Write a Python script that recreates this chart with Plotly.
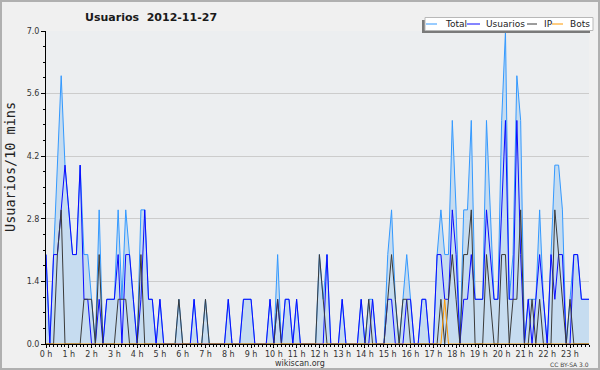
import plotly.graph_objects as go

# 10-minute slots over the day (index 0..143)
slots = list(range(144))
hour_ticks = list(range(0, 144, 6))
hour_labels = [f"{h} h" for h in range(24)]

total = [2,0,2,4,6,4,3,2,2,4,
         2,2,1,0,3,0,1,1,1,3,
         1,3,2,1,0,3,3,1,1,0,
         1,0,0,0,0,1,0,0,0,1,
         0,0,1,0,0,0,0,0,1,0,
         0,0,1,1,1,0,0,0,0,1,
         0,2,0,1,1,0,1,0,0,0,
         0,0,2,1,2,0,0,0,1,0,
         0,0,0,1,0,1,1,0,0,0,
         2,3,1,0,1,2,1,0,0,1,
         1,0,0,2,3,2,2,5,3,0,
         3,3,5,1,1,1,5,3,1,1,
         5,7,1,2,6,5,0,1,1,1,
         3,1,0,2,4,4,3,0,1,2,
         2,1,1,1]

usuarios = [2,0,2,2,3,4,3,2,2,4,
            1,1,0,0,1,0,1,1,1,2,
            0,2,2,1,0,1,3,1,1,0,
            1,0,0,0,0,0,0,0,0,1,
            0,0,0,0,0,0,0,0,1,0,
            0,0,1,1,1,0,0,0,0,1,
            0,1,0,1,1,0,1,0,0,0,
            0,0,0,0,2,0,0,0,1,0,
            0,0,0,1,0,0,1,0,0,0,
            1,1,0,0,0,1,1,0,0,1,
            1,0,0,2,2,1,1,3,2,0,
            1,1,2,1,1,1,3,2,1,1,
            3,5,1,1,5,2,0,1,0,1,
            2,1,0,2,1,2,2,0,0,2,
            2,1,1,1]

ip = [0,0,0,2,3,0,0,0,0,0,
      1,1,1,0,2,0,0,0,0,1,
      1,1,0,0,0,2,0,0,0,0,
      0,0,0,0,0,1,0,0,0,0,
      0,0,1,0,0,0,0,0,0,0,
      0,0,0,0,0,0,0,0,0,0,
      0,1,0,0,0,0,0,0,0,0,
      0,0,2,1,0,0,0,0,0,0,
      0,0,0,0,0,1,0,0,0,0,
      1,2,1,0,1,1,0,0,0,0,
      0,0,0,0,1,0,1,2,1,0,
      2,2,3,0,0,0,2,1,0,0,
      2,2,0,1,1,3,0,0,1,0,
      1,0,0,0,3,2,1,0,1,0,
      0,0,0,0]

bots = [0]*105 + [1] + [0]*38

C_TOTAL = "#3399ff"
C_FILL = "#c6dcf0"
C_USU = "#0a0aff"
C_IP = "#3a3a3a"
C_BOTS = "#ff9900"

fig = go.Figure()
fig.add_trace(go.Scatter(x=slots, y=total, name="Total", mode="lines",
                         line=dict(color=C_TOTAL, width=1), fill="tozeroy",
                         fillcolor=C_FILL))
fig.add_trace(go.Scatter(x=slots, y=usuarios, name="Usuarios", mode="lines",
                         line=dict(color=C_USU, width=1)))
fig.add_trace(go.Scatter(x=slots, y=ip, name="IP", mode="lines",
                         line=dict(color=C_IP, width=1)))
fig.add_trace(go.Scatter(x=slots, y=bots, name="Bots", mode="lines",
                         line=dict(color=C_BOTS, width=1)))

L, R, T, B = 46, 11, 31, 26
W, H = 600, 370
PW, PH = W - L - R, H - T - B

def px(x):
    return (x - L) / PW

def py(y):
    return (H - B - y) / PH

shapes = [
    # outer border
    dict(type="rect", xref="paper", yref="paper", x0=px(1), x1=px(599), y0=py(369), y1=py(1),
         line=dict(color="#b0b0b0", width=2), fillcolor="rgba(0,0,0,0)", layer="above"),
    # legend shadow
    dict(type="rect", xref="paper", yref="paper", x0=px(422), x1=px(590), y0=py(33), y1=py(20),
         line=dict(width=0), fillcolor="#7a7a7a", layer="above"),
    # legend box
    dict(type="rect", xref="paper", yref="paper", x0=px(425), x1=px(593), y0=py(30.5), y1=py(17.5),
         line=dict(color="#b8b8b8", width=1), fillcolor="#ffffff", layer="above"),
]
legend_items = [("Total", C_TOTAL, 426, 437, 443),
                ("Usuarios", C_USU, 467, 480, 484),
                ("IP", C_IP, 527, 537, 542),
                ("Bots", C_BOTS, 552, 563, 568)]
annotations = []
for name, col, lx0, lx1, tx in legend_items:
    shapes.append(dict(type="line", xref="paper", yref="paper", x0=px(lx0), x1=px(lx1),
                       y0=py(24), y1=py(24), line=dict(color=col, width=1), layer="above"))
    annotations.append(dict(text=name, xref="paper", yref="paper", x=px(tx), y=py(24),
                            xanchor="left", yanchor="middle", showarrow=False,
                            font=dict(family="DejaVu Sans", size=9, color="#222")))

annotations += [
    dict(text="Usuarios&nbsp;&nbsp;2012-11-27", xref="paper", yref="paper", x=px(151), y=py(17),
         xanchor="center", yanchor="middle", showarrow=False,
         font=dict(family="DejaVu Sans", size=11, color="#1a1a1a", weight="bold")),
    dict(text="Usuarios/10 mins", xref="paper", yref="paper", x=px(10), y=py(167),
         xanchor="center", yanchor="middle", showarrow=False, textangle=-90,
         font=dict(family="DejaVu Sans Mono", size=13.5, color="#222")),
    dict(text="wikiscan.org", xref="paper", yref="paper", x=px(300), y=py(363),
         xanchor="center", yanchor="middle", showarrow=False, borderpad=0,
         font=dict(family="DejaVu Sans", size=8, color="#333")),
    dict(text="CC BY-SA 3.0", xref="paper", yref="paper", x=px(590), y=py(364),
         xanchor="right", yanchor="middle", showarrow=False, borderpad=0,
         font=dict(family="DejaVu Sans", size=6, color="#444")),
]

fig.update_layout(
    width=W, height=H,
    margin=dict(l=L, r=R, t=T, b=B, pad=0),
    paper_bgcolor="#f0f0f0", plot_bgcolor="#eceef0",
    showlegend=False,
    shapes=shapes, annotations=annotations,
    font=dict(family="DejaVu Sans", size=8, color="#333"),
)
fig.update_xaxes(range=[0, 143], tickmode="array", tickvals=hour_ticks, ticktext=hour_labels,
                 ticks="outside", ticklen=3, tickcolor="#000", showline=True, linecolor="#000",
                 linewidth=1, showgrid=False, zeroline=False, ticklabelstandoff=-1,
                 tickfont=dict(family="DejaVu Sans", size=8, color="#333"),
                 minor=dict(tickmode="linear", tick0=0, dtick=1, ticks="outside", ticklen=2,
                            tickcolor="#000", showgrid=False))
fig.update_yaxes(range=[0, 7], tickmode="linear", tick0=0, dtick=1.4, tickformat=".1f",
                 ticks="outside", ticklen=4, tickcolor="#000", showline=True, linecolor="#000",
                 linewidth=1, showgrid=True, gridcolor="#cccccc", gridwidth=1, zeroline=False,
                 tickfont=dict(family="DejaVu Sans", size=8, color="#333"),
                 minor=dict(tickmode="linear", tick0=0, dtick=0.35, ticks="outside", ticklen=2,
                            tickcolor="#000", showgrid=False))

fig.write_html("out.html")
